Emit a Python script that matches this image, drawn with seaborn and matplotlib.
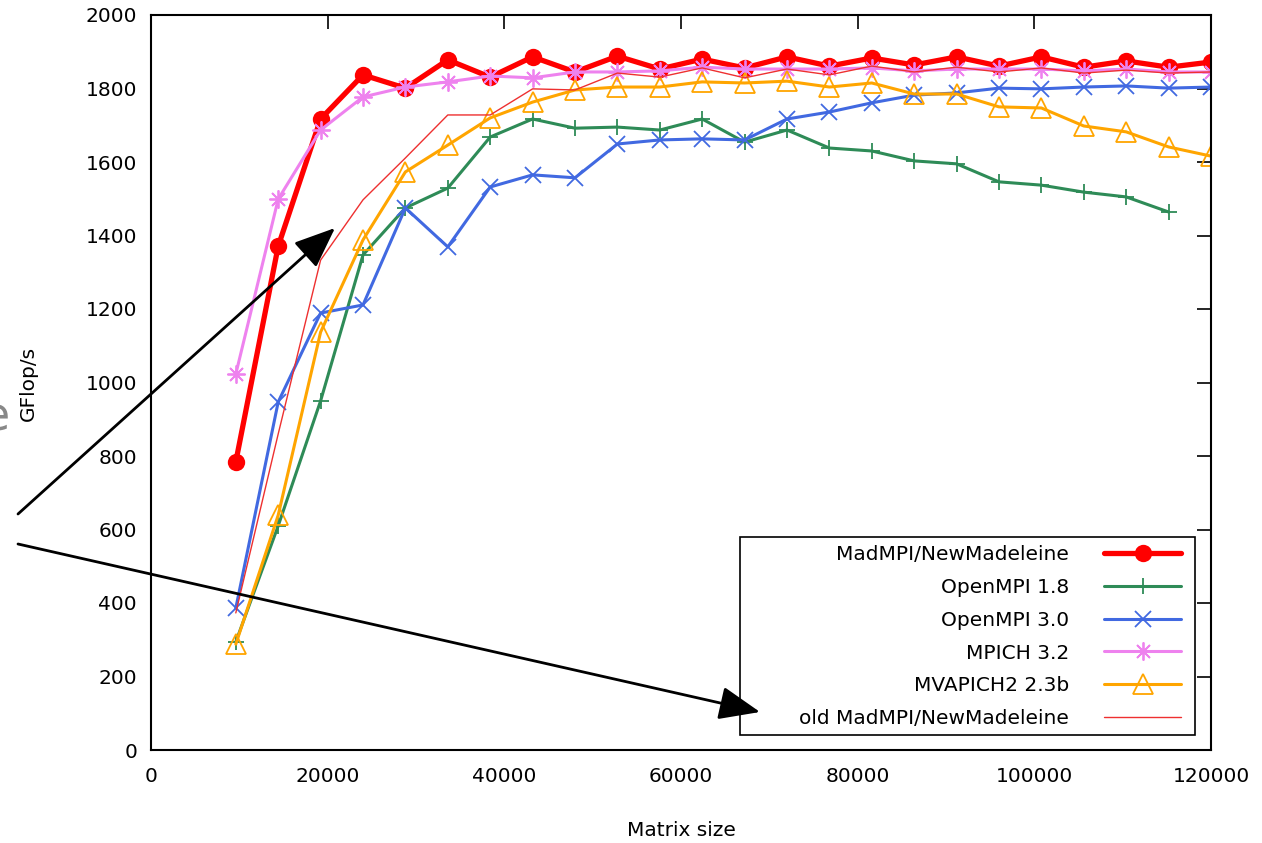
import matplotlib
matplotlib.use("Agg")
import matplotlib.pyplot as plt
import matplotlib.patches as mpatches
import seaborn as sns
import numpy as np

# ---- data ----
sizes = [9600 + 4800 * i for i in range(24)]
madmpi = [784, 1371, 1717, 1837, 1801, 1878, 1831, 1886, 1845, 1888, 1853, 1880,
          1856, 1886, 1861, 1883, 1864, 1886, 1861, 1886, 1858, 1875, 1858, 1872]
openmpi18 = [294, 610, 950, 1347, 1475, 1529, 1668, 1717, 1692, 1695, 1687, 1717,
             1654, 1687, 1638, 1630, 1603, 1595, 1546, 1537, 1518, 1505, 1464]
openmpi30 = [386, 947, 1189, 1211, 1475, 1369, 1532, 1565, 1557, 1649, 1660, 1663,
             1660, 1717, 1736, 1761, 1782, 1788, 1801, 1799, 1804, 1807, 1801, 1804]
mpich = [1023, 1499, 1687, 1777, 1804, 1818, 1834, 1829, 1845, 1845, 1848, 1858,
         1853, 1853, 1853, 1856, 1848, 1853, 1853, 1853, 1848, 1853, 1845, 1845]
mvapich = [288, 639, 1137, 1388, 1573, 1646, 1720, 1763, 1796, 1804, 1804, 1818,
           1815, 1820, 1804, 1815, 1785, 1785, 1750, 1747, 1698, 1682, 1641, 1616]
old_madmpi = [373, 860, 1333, 1497, 1611, 1728, 1728, 1799, 1796, 1842, 1831, 1856,
              1829, 1853, 1837, 1861, 1845, 1858, 1845, 1856, 1842, 1850, 1842, 1845]

labels = ["MadMPI/NewMadeleine", "OpenMPI 1.8", "OpenMPI 3.0", "MPICH 3.2",
          "MVAPICH2 2.3b", "old MadMPI/NewMadeleine"]
x_ticks = [0, 20000, 40000, 60000, 80000, 100000, 120000]
y_ticks = list(range(0, 2001, 200))

sns.set_theme(style="white")
plt.rcParams["font.family"] = ["DejaVu Sans"]
plt.rcParams["text.color"] = "black"

W, H = 1262, 843
fig = plt.figure(figsize=(W / 100, H / 100), dpi=100)
ax = fig.add_axes([151 / W, 1 - 750 / H, 1060 / W, 735 / H])

fs = 14.5
series = [
    (madmpi, sizes, dict(color="#ff0000", lw=3.8, marker="o", markersize=12.5,
                         markeredgewidth=0, markeredgecolor="#ff0000")),
    (openmpi18, sizes[:len(openmpi18)], dict(color="#2e8b57", lw=2.2, marker="+",
                                             markersize=12, markeredgewidth=1.3,
                                             markeredgecolor="#2e8b57")),
    (openmpi30, sizes, dict(color="#4169e1", lw=2.2, marker="x", markersize=12,
                            markeredgewidth=1.3, markeredgecolor="#4169e1")),
    (mpich, sizes, dict(color="#ee82ee", lw=2.2, marker=(8, 2, 0), markersize=13,
                        markeredgewidth=1.3, markeredgecolor="#ee82ee")),
    (mvapich, sizes, dict(color="#ffa500", lw=2.2, marker="^", markersize=14,
                          markerfacecolor="none", markeredgewidth=1.3,
                          markeredgecolor="#ffa500")),
    (old_madmpi, sizes, dict(color="#ee3030", lw=1.0)),
]
for (yv, xv, kw), lab in zip(series, labels):
    sns.lineplot(x=xv, y=yv, ax=ax, label=lab, **kw)

ax.set_xlim(0, 120000)
ax.set_ylim(0, 2000)
ax.set_xticks(x_ticks)
ax.set_yticks(y_ticks)
ax.set_xticklabels([str(v) for v in x_ticks])
ax.set_yticklabels([str(v) for v in y_ticks])
ax.tick_params(axis="both", direction="in", length=10, width=1.2, color="black",
               labelsize=fs, top=True, right=True, labelcolor="black")
ax.tick_params(axis="y", pad=10)
ax.tick_params(axis="x", pad=12)
for sp in ax.spines.values():
    sp.set_visible(True)
    sp.set_color("black")
    sp.set_linewidth(1.5)
ax.grid(False)

ax.set_xlabel("Matrix size", fontsize=fs, color="black")
ax.set_ylabel("GFlop/s", fontsize=fs, color="black")
ax.xaxis.set_label_coords(0.5, (750 - 831) / 735)
ax.xaxis.label.set_va("center")
ax.yaxis.set_label_coords((28 - 151) / 1060, (750 - 383) / 735)
ax.yaxis.label.set_va("center")
ax.yaxis.label.set_ha("center")

leg = ax.legend(loc="lower right", bbox_to_anchor=(1191 / W, 1 - 738 / H),
                bbox_transform=fig.transFigure, borderaxespad=0,
                markerfirst=False, fontsize=fs, frameon=False,
                handlelength=3.8, labelspacing=0.68, borderpad=0.5,
                handletextpad=1.75, labelcolor="black")
# legend frame (gnuplot style box)
ax.add_artist(mpatches.Rectangle((740 / W, 1 - 735 / H), 455 / W, 198 / H,
                                 transform=fig.transFigure, fill=False,
                                 edgecolor="black", lw=1.2, zorder=1.5))

# partial slide text and annotation arrows
fig.text(10 / W, 1 - 418 / H, "e", ha="right", va="center", fontsize=33,
         color="#888888")
arrow_kw = dict(arrowstyle="-|>,head_length=1.15,head_width=0.47", color="black",
                lw=2, mutation_scale=22, shrinkA=0, shrinkB=0)
fig.add_artist(mpatches.FancyArrowPatch(
    (18 / W, 1 - 514 / H), (335 / W, 1 - 228 / H), transform=fig.transFigure,
    **arrow_kw))
fig.add_artist(mpatches.FancyArrowPatch(
    (18 / W, 1 - 544 / H), (760 / W, 1 - 712 / H), transform=fig.transFigure,
    **arrow_kw))

fig.savefig("out.png", dpi=100)
